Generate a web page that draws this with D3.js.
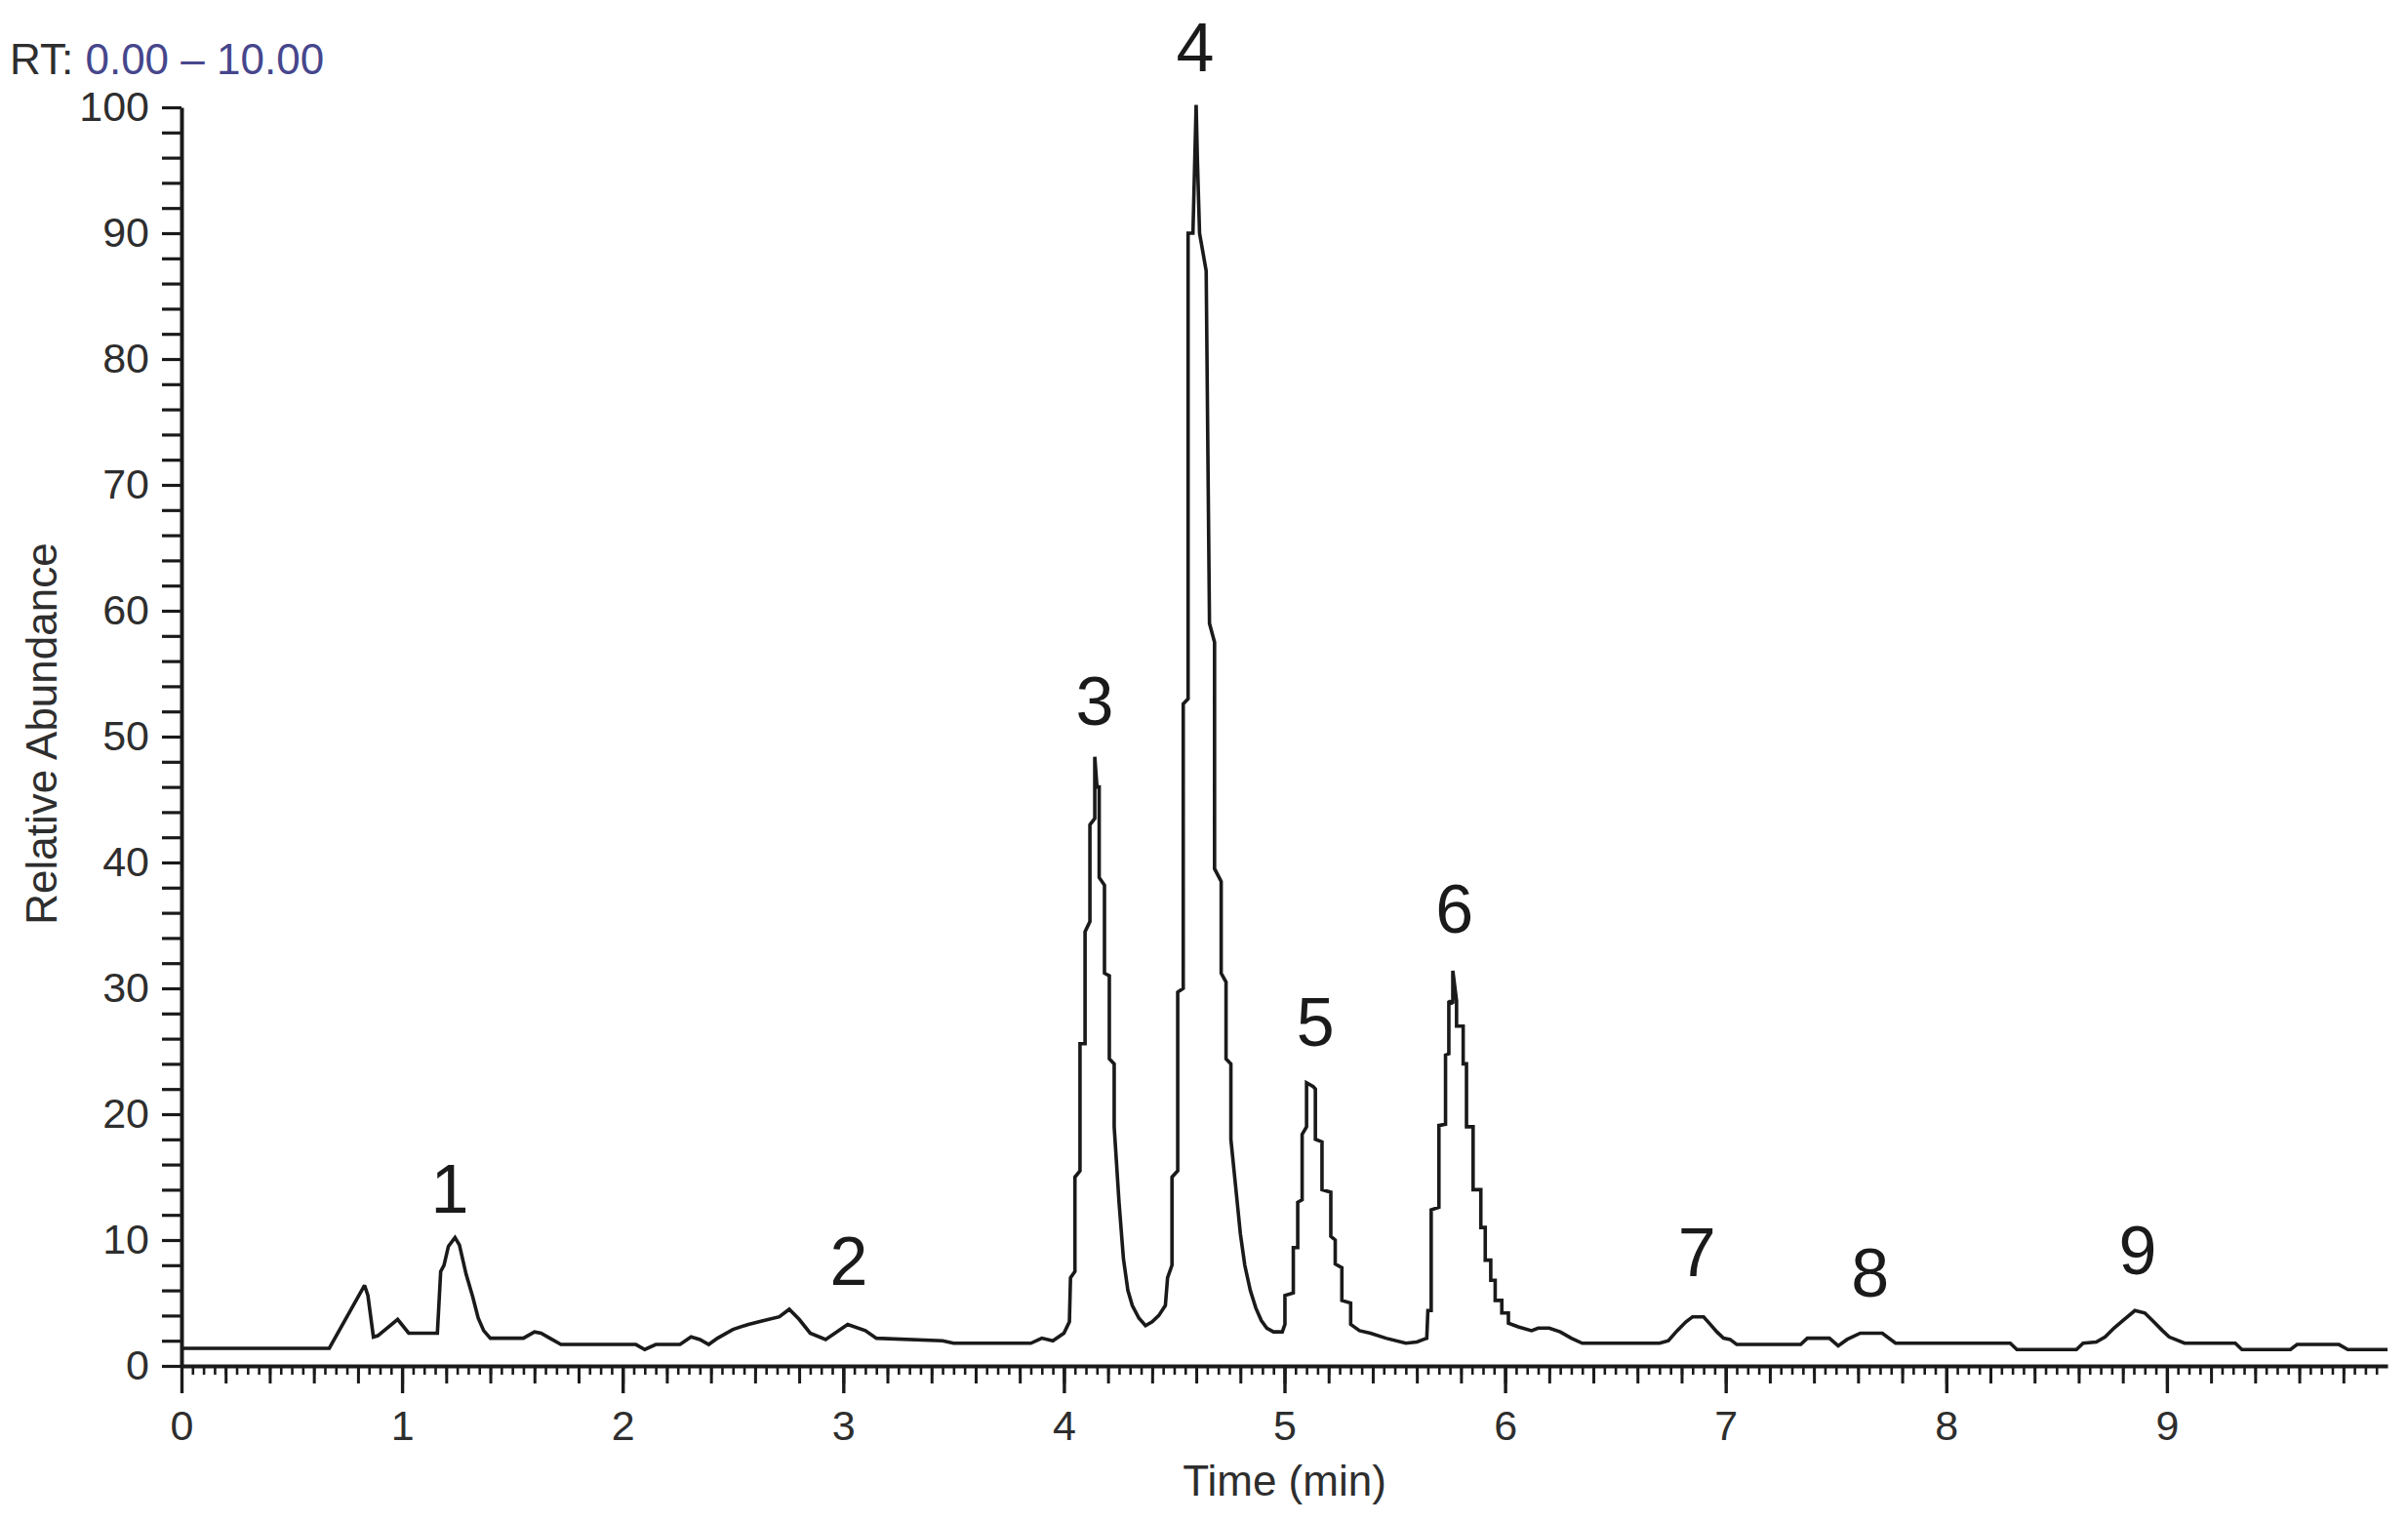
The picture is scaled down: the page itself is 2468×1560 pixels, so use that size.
<!DOCTYPE html>
<html>
<head>
<meta charset="utf-8">
<script src="https://cdn.jsdelivr.net/npm/d3@7/dist/d3.min.js"></script>
<style>
  html, body { margin: 0; padding: 0; background: #fff; }
  svg { display: block; }
  text { font-family: "Liberation Sans", Arial, sans-serif; }
</style>
</head>
<body>
<svg id="chart" width="2468" height="1560"></svg>
<script>
// ---- Data (RT in min, relative abundance in %) ----
const traceRT = [
  0, 0.67, 0.83, 0.845, 0.87, 0.89, 0.98, 1.03, 1.16, 1.175, 1.19, 1.21, 1.24, 1.26, 1.29, 1.32, 1.345, 1.37, 1.40,
  1.55, 1.60, 1.63, 1.67, 1.72, 2.06, 2.10, 2.15, 2.26, 2.31, 2.35, 2.39, 2.43, 2.50, 2.57, 2.64, 2.71, 2.755,
  2.80, 2.85, 2.92, 3.02, 3.10, 3.15, 3.45, 3.50, 3.85, 3.90, 3.95, 4.00,
  4.025, 4.03, 4.05, 4.05, 4.073, 4.073, 4.096, 4.096, 4.118, 4.118, 4.14, 4.14, 4.15, 4.16, 4.16, 4.184, 4.184,
  4.206, 4.206, 4.228, 4.228, 4.25, 4.27, 4.29, 4.31, 4.34, 4.37, 4.40, 4.43,
  4.46, 4.47, 4.49, 4.49, 4.516, 4.516, 4.541, 4.541, 4.563, 4.563, 4.585, 4.5995, 4.605, 4.615, 4.645, 4.66,
  4.683, 4.683, 4.713, 4.713, 4.735, 4.735, 4.757, 4.757, 4.78, 4.80, 4.82, 4.845, 4.87, 4.895, 4.92, 4.95, 4.99,
  5.002, 5.002, 5.04, 5.04, 5.06, 5.06, 5.08, 5.08, 5.10, 5.10, 5.13, 5.14, 5.14, 5.17, 5.17, 5.21, 5.21, 5.23, 5.23,
  5.26, 5.26, 5.30, 5.30, 5.34, 5.39, 5.46, 5.55, 5.60, 5.63,
  5.645, 5.65, 5.665, 5.665, 5.70, 5.70, 5.73, 5.73, 5.745, 5.745, 5.763, 5.763, 5.78, 5.78, 5.81, 5.81, 5.825, 5.825,
  5.855, 5.855, 5.89, 5.89, 5.91, 5.91, 5.935, 5.935, 5.955, 5.955, 5.985, 5.985, 6.015, 6.015, 6.06, 6.12, 6.15,
  6.20, 6.25, 6.30, 6.35,
  6.70, 6.74, 6.78, 6.82, 6.85, 6.90, 6.93, 6.96, 6.99, 7.02, 7.05, 7.34, 7.37, 7.47, 7.51, 7.55, 7.61, 7.71, 7.77,
  8.29, 8.32, 8.59, 8.62, 8.68, 8.72, 8.76, 8.80, 8.855, 8.90, 8.94, 8.98, 9.01, 9.08, 9.31, 9.34, 9.56, 9.59,
  9.78, 9.82, 10.0
];
const traceAbundance = [
  1.4, 1.4, 6.4, 5.6, 2.3, 2.4, 3.7, 2.6, 2.6, 7.5, 8.0, 9.5, 10.2, 9.6, 7.3, 5.5, 3.8, 2.8, 2.2,
  2.2, 2.7, 2.6, 2.2, 1.7, 1.7, 1.3, 1.7, 1.7, 2.3, 2.1, 1.7, 2.2, 2.9, 3.3, 3.6, 3.9, 4.5,
  3.7, 2.6, 2.1, 3.3, 2.8, 2.2, 2.0, 1.8, 1.8, 2.2, 2.0, 2.6,
  3.5, 7, 7.5, 15, 15.5, 25.6, 25.6, 34.5, 35.3, 43, 43.5, 48.4, 46, 46, 38.8, 38.2, 31.2,
  31, 24.4, 24, 19, 13, 8.5, 6, 4.8, 3.8, 3.2, 3.5, 4.0,
  4.8, 7, 8, 15, 15.5, 29.7, 30, 52.6, 53, 90, 90, 100.2, 96, 90, 87, 59,
  57.5, 39.5, 38.5, 31.2, 30.5, 24.4, 24, 18, 14, 10.5, 8, 6, 4.6, 3.6, 3.0, 2.7, 2.7,
  3.3, 5.6, 5.8, 9.4, 9.4, 13, 13.2, 18.4, 19, 22.5, 22.2, 22, 18, 17.8, 14, 13.8, 10.3, 10, 8.1,
  7.8, 5.2, 5.0, 3.3, 2.8, 2.6, 2.2, 1.8, 1.9, 2.1,
  2.2, 4.4, 4.4, 12.4, 12.6, 19.1, 19.2, 24.7, 24.8, 29, 28.8, 31.4, 29, 27, 27, 24, 24, 19,
  19, 14, 14, 11, 11, 8.4, 8.4, 6.8, 6.8, 5.2, 5.2, 4.2, 4.2, 3.4, 3.1, 2.8, 3.0,
  3.0, 2.7, 2.2, 1.8,
  1.8, 2.0, 2.8, 3.5, 3.9, 3.9, 3.3, 2.7, 2.2, 2.1, 1.7, 1.7, 2.2, 2.2, 1.6, 2.1, 2.6, 2.6, 1.8,
  1.8, 1.3, 1.3, 1.8, 1.9, 2.3, 3.0, 3.6, 4.4, 4.2, 3.5, 2.8, 2.3, 1.8, 1.8, 1.3, 1.3, 1.7,
  1.7, 1.3, 1.3
];

// Peak annotations: label, RT of label centre, abundance level of label baseline
const peakLabels = ["1", "2", "3", "4", "5", "6", "7", "8", "9"];
const peakLabelRT = [1.216, 3.025, 4.14, 4.595, 5.14, 5.77, 6.87, 7.655, 8.868];
const peakLabelLevel = [12.2, 6.4, 50.9, 102.9, 25.4, 34.4, 7.1, 5.5, 7.3];

// Axis ticks
const xTickLabels = [0, 1, 2, 3, 4, 5, 6, 7, 8, 9];
const yTickLabels = [0, 10, 20, 30, 40, 50, 60, 70, 80, 90, 100];
const rtRangeText = "0.00 – 10.00";

// ---- Drawing ----
const svg = d3.select("#chart");
const x = d3.scaleLinear().domain([0, 10]).range([186, 2447]);
const y = d3.scaleLinear().domain([0, 100]).range([1400, 110]);

const ink = "#1a1a1a";
const labelInk = "#2e2e2e";

// Y axis
const yAxis = d3.axisLeft(y)
  .tickValues(d3.range(0, 101, 2))
  .tickSize(20)
  .tickSizeOuter(0)
  .tickPadding(13)
  .tickFormat(d => (d % 10 === 0 ? d : ""));
const gy = svg.append("g").attr("transform", `translate(${x(0)},0)`).call(yAxis);
gy.select(".domain").attr("stroke", ink).attr("stroke-width", 4);
gy.selectAll(".tick line").attr("stroke", ink).attr("stroke-width", 3.2);
gy.selectAll(".tick text").attr("font-size", 43).attr("fill", labelInk)
  .attr("font-family", "'Liberation Sans', Arial, sans-serif");

// X axis: minor (0.05), medium (0.2) and major (1) ticks
const gxMinor = svg.append("g").attr("transform", `translate(0,${y(0)})`)
  .call(d3.axisBottom(x).tickValues(d3.range(0, 200).map(i => i * 0.05)).tickSize(9).tickSizeOuter(0).tickFormat(""));
gxMinor.select(".domain").remove();
gxMinor.selectAll(".tick line").attr("stroke", ink).attr("stroke-width", 2.6);

const gxMed = svg.append("g").attr("transform", `translate(0,${y(0)})`)
  .call(d3.axisBottom(x).tickValues(d3.range(0, 50).map(i => i * 0.2)).tickSize(18).tickSizeOuter(0).tickFormat(""));
gxMed.select(".domain").remove();
gxMed.selectAll(".tick line").attr("stroke", ink).attr("stroke-width", 3);

const gx = svg.append("g").attr("transform", `translate(0,${y(0)})`)
  .call(d3.axisBottom(x).tickValues(xTickLabels).tickSize(28).tickSizeOuter(0).tickPadding(17).tickFormat(d3.format("d")));
gx.select(".domain").attr("stroke", ink).attr("stroke-width", 4);
gx.selectAll(".tick line").attr("stroke", ink).attr("stroke-width", 3.4);
gx.selectAll(".tick text").attr("font-size", 43).attr("fill", labelInk)
  .attr("font-family", "'Liberation Sans', Arial, sans-serif");

// Trace
const points = traceRT.map((t, i) => [t, traceAbundance[i]]);
const line = d3.line().x(d => x(d[0])).y(d => y(d[1])).curve(d3.curveLinear);
svg.append("path")
  .datum(points)
  .attr("d", line)
  .attr("fill", "none")
  .attr("stroke", ink)
  .attr("stroke-width", 3.6)
  .attr("stroke-linejoin", "miter")
  .attr("stroke-miterlimit", 2);

// Peak labels
svg.append("g").selectAll("text")
  .data(peakLabels)
  .join("text")
  .attr("x", (d, i) => x(peakLabelRT[i]))
  .attr("y", (d, i) => y(peakLabelLevel[i]))
  .attr("text-anchor", "middle")
  .attr("font-size", 70)
  .attr("fill", ink)
  .text(d => d);

// Axis titles
svg.append("text")
  .attr("x", (x(5) + x(6)) / 2 - 113)
  .attr("y", 1533)
  .attr("text-anchor", "middle")
  .attr("font-size", 44)
  .attr("fill", labelInk)
  .text("Time (min)");

svg.append("text")
  .attr("transform", `translate(58,${(y(0) + y(100)) / 2 - 3}) rotate(-90)`)
  .attr("text-anchor", "middle")
  .attr("font-size", 44)
  .attr("fill", labelInk)
  .text("Relative Abundance");

// RT header
const rt = svg.append("text").attr("x", 10).attr("y", 76).attr("font-size", 44);
rt.append("tspan").attr("fill", labelInk).text("RT: ");
rt.append("tspan").attr("fill", "#46468c").text(rtRangeText);
</script>
</body>
</html>
